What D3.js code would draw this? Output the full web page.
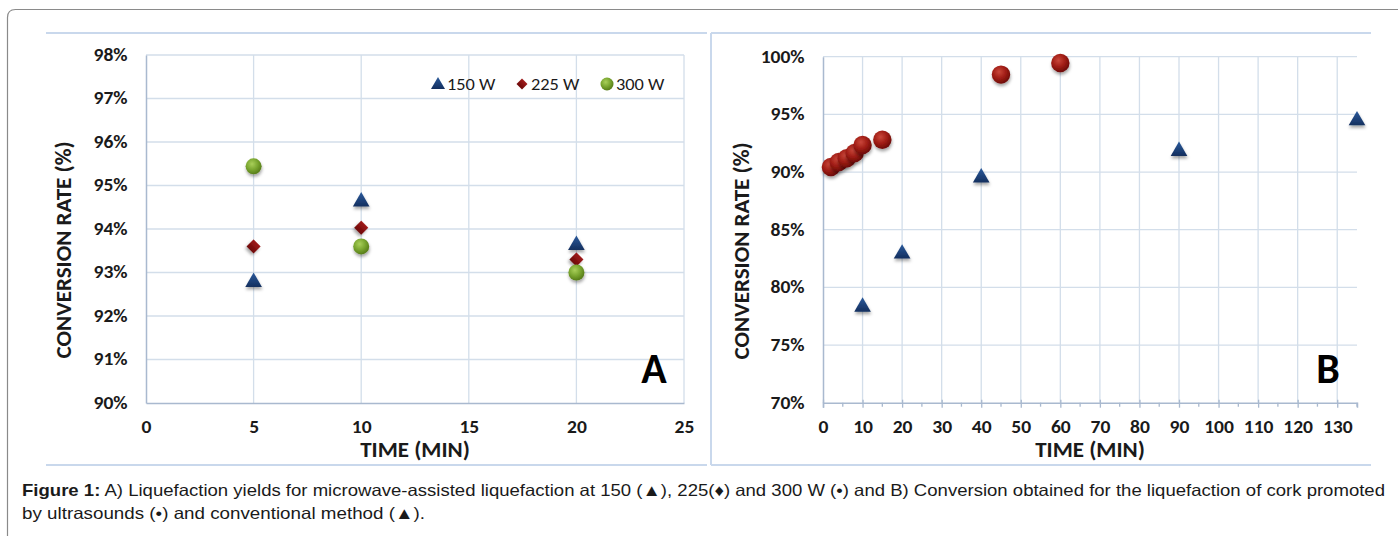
<!DOCTYPE html>
<html>
<head>
<meta charset="utf-8">
<script src="https://cdn.jsdelivr.net/npm/d3@7"></script>
<style>
  html, body { margin: 0; padding: 0; background: #fff; }
  svg { display: block; }
  .tick text { font-family: Carlito, Lato, "DejaVu Sans", sans-serif; font-weight: 700; font-size: 17px; fill: #1a1a1a; }
</style>
</head>
<body>
<svg id="chart" width="1398" height="536"></svg>
<script>
// ---------- Data ----------
const timeA = [5, 10, 20];
const rate150W = [92.8, 94.65, 93.65];
const rate225W = [93.6, 94.03, 93.3];
const rate300W = [95.44, 93.6, 93.0];
const xTicksA = [0, 5, 10, 15, 20, 25];
const yTicksA = [90, 91, 92, 93, 94, 95, 96, 97, 98];
const legendA = ["150 W", "225 W", "300 W"];

const timeUltra = [2, 4, 6, 8, 10, 15, 45, 60];
const rateUltra = [90.44, 90.87, 91.2, 91.65, 92.35, 92.8, 98.45, 99.45];
const timeConv = [10, 20, 40, 90, 135];
const rateConv = [78.4, 83.0, 89.6, 91.9, 94.55];
const xTicksB = [0, 10, 20, 30, 40, 50, 60, 70, 80, 90, 100, 110, 120, 130];
const xMinorB = [5, 15, 25, 35, 45, 55, 65, 75, 85, 95, 105, 115, 125, 135];
const yTicksB = [70, 75, 80, 85, 90, 95, 100];

const captionBold = "Figure 1:";
const captionLine1 = " A) Liquefaction yields for microwave-assisted liquefaction at 150 (\u25B2), 225(\u2666) and 300 W (\u2022) and B) Conversion obtained for the liquefaction of cork promoted";
const captionLine2 = "by ultrasounds (\u2022) and conventional method (\u25B2).";

// ---------- Setup ----------
const svg = d3.select("#chart");
const defs = svg.append("defs");
const FONT = "Carlito, Lato, 'DejaVu Sans', sans-serif";
const STRETCH = "scale(1.15,1)";

const shadow = defs.append("filter").attr("id", "shadow").attr("x", "-50%").attr("y", "-50%").attr("width", "200%").attr("height", "220%");
shadow.append("feDropShadow").attr("dx", 0.5).attr("dy", 2.5).attr("stdDeviation", 1.6).attr("flood-color", "#000").attr("flood-opacity", 0.35);

function radial(id, c0, c1, c2) {
  const g = defs.append("radialGradient").attr("id", id).attr("cx", "40%").attr("cy", "35%").attr("r", "65%");
  g.append("stop").attr("offset", "0%").attr("stop-color", c0);
  g.append("stop").attr("offset", "55%").attr("stop-color", c1);
  g.append("stop").attr("offset", "100%").attr("stop-color", c2);
}
function linear(id, c0, c1) {
  const g = defs.append("linearGradient").attr("id", id).attr("x1", 0).attr("y1", 0).attr("x2", 0).attr("y2", 1);
  g.append("stop").attr("offset", "0%").attr("stop-color", c0);
  g.append("stop").attr("offset", "100%").attr("stop-color", c1);
}
radial("gGreen", "#a9cf5a", "#7aa630", "#577d18");
radial("gRed", "#c9463a", "#a01d15", "#6e0c08");
linear("gBlue", "#2a5a9c", "#142f5e");
linear("gDiam", "#a11c1c", "#6c0808");

// outer frame
svg.append("path")
  .attr("d", "M7.5,545 L7.5,17.5 Q7.5,9.5 15.5,9.5 L1405,9.5")
  .attr("fill", "none").attr("stroke", "#8a8a8a").attr("stroke-width", 1.2);

// panel borders
const panelStroke = "#c9d8ec";
svg.append("line").attr("x1", 46).attr("x2", 707).attr("y1", 33).attr("y2", 33).attr("stroke", panelStroke).attr("stroke-width", 2);
svg.append("line").attr("x1", 46).attr("x2", 707).attr("y1", 465).attr("y2", 465).attr("stroke", panelStroke).attr("stroke-width", 2);
svg.append("line").attr("x1", 711).attr("x2", 1371).attr("y1", 33).attr("y2", 33).attr("stroke", panelStroke).attr("stroke-width", 2);
svg.append("line").attr("x1", 711).attr("x2", 1371).attr("y1", 465).attr("y2", 465).attr("stroke", panelStroke).attr("stroke-width", 2);
svg.append("line").attr("x1", 711).attr("x2", 711).attr("y1", 33).attr("y2", 465).attr("stroke", panelStroke).attr("stroke-width", 2);

const gridColor = "#d3deea";
const axisColor = "#a9b9cf";

// marker drawing helpers
const triPath = d3.symbol().type(d3.symbolTriangle).size(120)();
const diaPath = d3.symbol().type(d3.symbolSquare).size(100)();

function drawTriangles(g, xs, ys, x, y) {
  g.selectAll(null).data(xs.map((d, i) => [d, ys[i]])).join("path")
    .attr("d", triPath)
    .attr("transform", d => `translate(${x(d[0])},${y(d[1]) + 1})`)
    .attr("fill", "url(#gBlue)").attr("filter", "url(#shadow)");
}
function drawDiamonds(g, xs, ys, x, y) {
  g.selectAll(null).data(xs.map((d, i) => [d, ys[i]])).join("path")
    .attr("d", diaPath)
    .attr("transform", d => `translate(${x(d[0])},${y(d[1])}) rotate(45)`)
    .attr("fill", "url(#gDiam)").attr("filter", "url(#shadow)");
}
function drawCircles(g, xs, ys, x, y, r, fill) {
  g.selectAll(null).data(xs.map((d, i) => [d, ys[i]])).join("circle")
    .attr("cx", d => x(d[0])).attr("cy", d => y(d[1])).attr("r", r)
    .attr("fill", fill).attr("filter", "url(#shadow)");
}
function titleText(g, x, y, rot, txt) {
  g.append("text").attr("transform", `translate(${x},${y})` + (rot ? " rotate(-90)" : ""))
    .attr("text-anchor", "middle")
    .attr("font-family", FONT).attr("font-weight", 700).attr("font-size", 23).attr("fill", "#1a1a1a")
    .text(txt);
}

// ---------- Panel A ----------
{
  const x = d3.scaleLinear().domain([0, 25]).range([146, 684]);
  const y = d3.scaleLinear().domain([90, 98]).range([403, 55]);
  const g = svg.append("g");

  g.append("g").selectAll(null).data(yTicksA.slice(1)).join("line")
    .attr("x1", x(0)).attr("x2", x(25)).attr("y1", d => y(d)).attr("y2", d => y(d))
    .attr("stroke", gridColor).attr("stroke-width", 1.3);
  g.append("g").selectAll(null).data(xTicksA.slice(1)).join("line")
    .attr("x1", d => x(d)).attr("x2", d => x(d)).attr("y1", y(90)).attr("y2", y(98))
    .attr("stroke", gridColor).attr("stroke-width", 1.3);

  const yAxis = g.append("g").attr("transform", `translate(${x(0)},0)`)
    .call(d3.axisLeft(y).tickValues(yTicksA).tickFormat(d => d + "%").tickSize(0).tickPadding(16));
  yAxis.select(".domain").attr("stroke", axisColor).attr("stroke-width", 1.5);
  yAxis.selectAll(".tick text").attr("transform", STRETCH);
  const xAxis = g.append("g").attr("transform", `translate(0,${y(90)})`)
    .call(d3.axisBottom(x).tickValues(xTicksA).tickSize(0).tickPadding(18));
  xAxis.select(".domain").attr("stroke", axisColor).attr("stroke-width", 1.5);
  xAxis.selectAll(".tick text").attr("transform", STRETCH);

  titleText(g, 415, 457, false, "TIME (MIN)");
  titleText(g, 71, 250, true, "CONVERSION RATE (%)");
  g.append("text").attr("x", 654).attr("y", 383).attr("text-anchor", "middle")
    .attr("font-family", FONT).attr("font-weight", 700).attr("font-size", 42).attr("fill", "#000")
    .text("A");

  drawTriangles(g, timeA, rate150W, x, y);
  drawDiamonds(g, timeA, rate225W, x, y);
  drawCircles(g, timeA, rate300W, x, y, 8, "url(#gGreen)");

  // legend
  const lg = g.append("g").attr("font-family", FONT).attr("font-size", 17).attr("fill", "#1a1a1a");
  const legX = [438, 522, 607];
  lg.append("path").attr("d", d3.symbol().type(d3.symbolTriangle).size(85)()).attr("transform", `translate(${legX[0]},85)`).attr("fill", "url(#gBlue)");
  lg.append("path").attr("d", d3.symbol().type(d3.symbolSquare).size(60)()).attr("transform", `translate(${legX[1]},84) rotate(45)`).attr("fill", "url(#gDiam)");
  lg.append("circle").attr("cx", legX[2]).attr("cy", 84).attr("r", 6.5).attr("fill", "url(#gGreen)");
  legendA.forEach((t, i) => {
    lg.append("text").attr("transform", `translate(${legX[i] + 9},84) scale(1.08,1)`).attr("dy", "0.35em").text(t);
  });
}

// ---------- Panel B ----------
{
  const x = d3.scaleLinear().domain([0, 135]).range([823, 1357]);
  const y = d3.scaleLinear().domain([70, 100]).range([402.7, 56.7]);
  const g = svg.append("g");

  g.append("g").selectAll(null).data(yTicksB.slice(1)).join("line")
    .attr("x1", x(0)).attr("x2", x(135)).attr("y1", d => y(d)).attr("y2", d => y(d))
    .attr("stroke", gridColor).attr("stroke-width", 1.3);
  g.append("g").selectAll(null).data(xTicksB.slice(1)).join("line")
    .attr("x1", d => x(d)).attr("x2", d => x(d)).attr("y1", y(70)).attr("y2", y(100))
    .attr("stroke", gridColor).attr("stroke-width", 1.3);

  const yAxis = g.append("g").attr("transform", `translate(${x(0)},0)`)
    .call(d3.axisLeft(y).tickValues(yTicksB).tickFormat(d => d + "%").tickSize(0).tickPadding(16));
  yAxis.select(".domain").attr("stroke", axisColor).attr("stroke-width", 1.5);
  yAxis.selectAll(".tick text").attr("transform", STRETCH);

  const xAxis = g.append("g").attr("transform", `translate(0,${y(70)})`)
    .call(d3.axisBottom(x).tickValues(xTicksB).tickSize(5).tickPadding(13));
  xAxis.select(".domain").attr("stroke", axisColor).attr("stroke-width", 1.5);
  xAxis.selectAll(".tick line").attr("stroke", axisColor).attr("stroke-width", 1.3).attr("y1", -3);
  xAxis.selectAll(".tick text").attr("transform", STRETCH);
  g.append("g").attr("transform", `translate(0,${y(70)})`)
    .selectAll(null).data(xMinorB).join("line")
    .attr("x1", d => x(d)).attr("x2", d => x(d)).attr("y1", 0).attr("y2", 4)
    .attr("stroke", axisColor).attr("stroke-width", 1.3);

  titleText(g, 1090, 457, false, "TIME (MIN)");
  titleText(g, 749, 251, true, "CONVERSION RATE (%)");
  g.append("text").attr("x", 1328).attr("y", 383).attr("text-anchor", "middle")
    .attr("font-family", FONT).attr("font-weight", 700).attr("font-size", 42).attr("fill", "#000")
    .text("B");

  drawTriangles(g, timeConv, rateConv, x, y);
  drawCircles(g, timeUltra, rateUltra, x, y, 9.2, "url(#gRed)");
}

// ---------- Caption ----------
{
  const cap = svg.append("g").attr("font-family", "'Liberation Sans', Arial, sans-serif").attr("font-size", 16.5).attr("fill", "#1a1a1a");
  const t1 = cap.append("text").attr("x", 22).attr("y", 496)
    .attr("textLength", 1363).attr("lengthAdjust", "spacingAndGlyphs");
  t1.append("tspan").attr("font-weight", 700).text(captionBold);
  t1.append("tspan").text(captionLine1);
  cap.append("text").attr("x", 22).attr("y", 519)
    .attr("textLength", 403).attr("lengthAdjust", "spacingAndGlyphs").text(captionLine2);
}
</script>
</body>
</html>
